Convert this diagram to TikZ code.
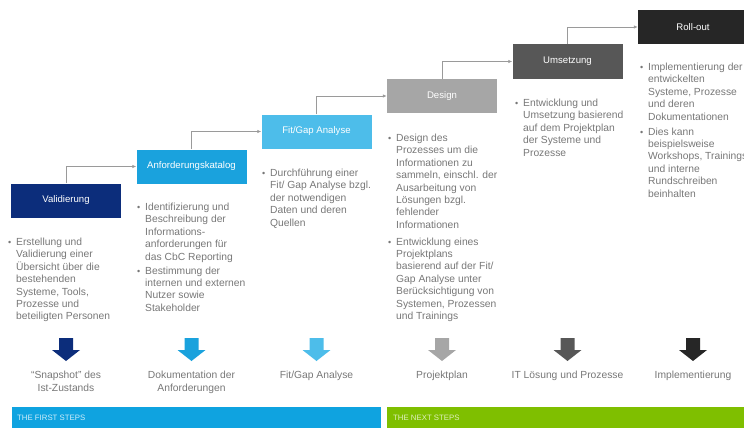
\documentclass[tikz,border=0pt]{standalone}
\usepackage{fontspec}
\setmainfont{Liberation Sans}
\usepackage{tikz}
\usetikzlibrary{
    calc,
    arrows.meta,
    positioning
}
\definecolor{navy}{HTML}{0C2D7B}
\definecolor{skyblue}{HTML}{1AA2DD}
\definecolor{lightsky}{HTML}{4DBDEA}
\definecolor{midgray}{HTML}{A6A6A6}
\definecolor{umsgray}{HTML}{575757}
\definecolor{nearblack}{HTML}{262626}
\definecolor{textgray}{HTML}{777777}
\definecolor{linegray}{HTML}{9A9A9A}
\definecolor{barblue}{HTML}{0FA3E0}
\definecolor{bargreen}{HTML}{7FBF00}
\tikzset{
    stepbox/.style={minimum width=110pt, minimum height=34pt, inner sep=0pt,
        text=white, font=\fontsize{9.6}{11}\selectfont},
    link/.style={draw=linegray, line width=0.8pt, -{Latex[length=4pt,width=3.5pt]}},
    bullets/.style={anchor=base west, inner sep=0pt, text=textgray,
        font=\fontsize{10.3}{12.4}\selectfont},
    result/.style={anchor=north, inner sep=0pt, align=center, text=textgray,
        font=\fontsize{10.3}{12.4}\selectfont},
    bartext/.style={anchor=base west, inner sep=0pt, font=\fontsize{7.8}{9}\selectfont}
}
\newcommand\bpoint[1]{\makebox[8pt][l]{\small\textbullet}\begin{tabular}[t]{@{}l@{}}#1\end{tabular}}

\begin{document}
\begin{tikzpicture}[x=1pt, y=-1pt]
    \useasboundingbox (0,0) rectangle (744,428);
    \node[stepbox, fill=navy] (vali) at (66,200.5) {Validierung};
    \node[stepbox, fill=skyblue] (anfo) at (191.5,166.5) {Anforderungskatalog};
    \node[stepbox, fill=lightsky] (fitgap) at (316.5,131.5) {Fit/Gap Analyse};
    \node[stepbox, fill=midgray] (design) at (442,96) {Design};
    \node[stepbox, fill=umsgray] (umset) at (567.5,61.5) {Umsetzung};
    \node[stepbox, fill=nearblack] (rollout) at (693,27) {Roll-out};
    \draw[link] (vali.north) |- (anfo.west);
    \draw[link] (anfo.north) |- (fitgap.west);
    \draw[link] (fitgap.north) |- (design.west);
    \draw[link] (design.north) |- (umset.west);
    \draw[link] (umset.north) |- (rollout.west);
    \node[bullets] (valitext) at (8,245.5) {\bpoint{Erstellung und\\ Validierung einer\\ Übersicht über die\\ bestehenden\\ Systeme, Tools,\\ Prozesse und\\ beteiligten Personen}};
    \node[bullets] (anfotexta) at (137,210.5) {\bpoint{Identifizierung und\\ Beschreibung der\\ Informations-\\ anforderungen für\\ das CbC Reporting}};
    \node[bullets] (anfotextb) at (137,274) {\bpoint{Bestimmung der\\ internen und externen\\ Nutzer sowie\\ Stakeholder}};
    \node[bullets] (fitgaptext) at (262,176.5) {\bpoint{Durchführung einer\\ Fit/ Gap Analyse bzgl.\\ der notwendigen\\ Daten und deren\\ Quellen}};
    \node[bullets] (designtexta) at (388,141.5) {\bpoint{Design des\\ Prozesses um die\\ Informationen zu\\ sammeln, einschl. der\\ Ausarbeitung von\\ Lösungen bzgl.\\ fehlender\\ Informationen}};
    \node[bullets] (designtextb) at (388,245) {\bpoint{Entwicklung eines\\ Projektplans\\ basierend auf der Fit/\\ Gap Analyse unter\\ Berücksichtigung von\\ Systemen, Prozessen\\ und Trainings}};
    \node[bullets] (umsettext) at (515,106.5) {\bpoint{Entwicklung und\\ Umsetzung basierend\\ auf dem Projektplan\\ der Systeme und\\ Prozesse}};
    \node[bullets] (rollouttexta) at (640,70.5) {\bpoint{Implementierung der\\ entwickelten\\ Systeme, Prozesse\\ und deren\\ Dokumentationen}};
    \node[bullets] (rollouttextb) at (640,135) {\bpoint{Dies kann\\ beispielsweise\\ Workshops, Trainings\\ und interne\\ Rundschreiben\\ beinhalten}};
    \foreach \cx/\col in {66/navy, 191.5/skyblue, 316.5/lightsky, 442/midgray, 567.5/umsgray, 693/nearblack}
        \fill[\col] (\cx-7,338) -- ++(14,0) -- ++(0,12) -- ++(7,0) -- ++(-14,11) -- ++(-14,-11) -- ++(7,0) -- cycle;
    \node[result] (valiout) at (66,371) {“Snapshot” des\\ Ist-Zustands};
    \node[result] (anfoout) at (191.5,371) {Dokumentation der\\ Anforderungen};
    \node[result] (fitgapout) at (316.5,371) {Fit/Gap Analyse};
    \node[result] (designout) at (442,371) {Projektplan};
    \node[result] (umsetout) at (567.5,371) {IT Lösung und Prozesse};
    \node[result] (rolloutout) at (693,371) {Implementierung};
    \fill[barblue] (12,407) rectangle (381,428);
    \fill[bargreen] (387,407) rectangle (744,428);
    \node[bartext, text=white!80!barblue] (firststeps) at (17,420.5) {THE FIRST STEPS};
    \node[bartext, text=white!75!bargreen] (nextsteps) at (393,420.5) {THE NEXT STEPS};
\end{tikzpicture}
\end{document}
